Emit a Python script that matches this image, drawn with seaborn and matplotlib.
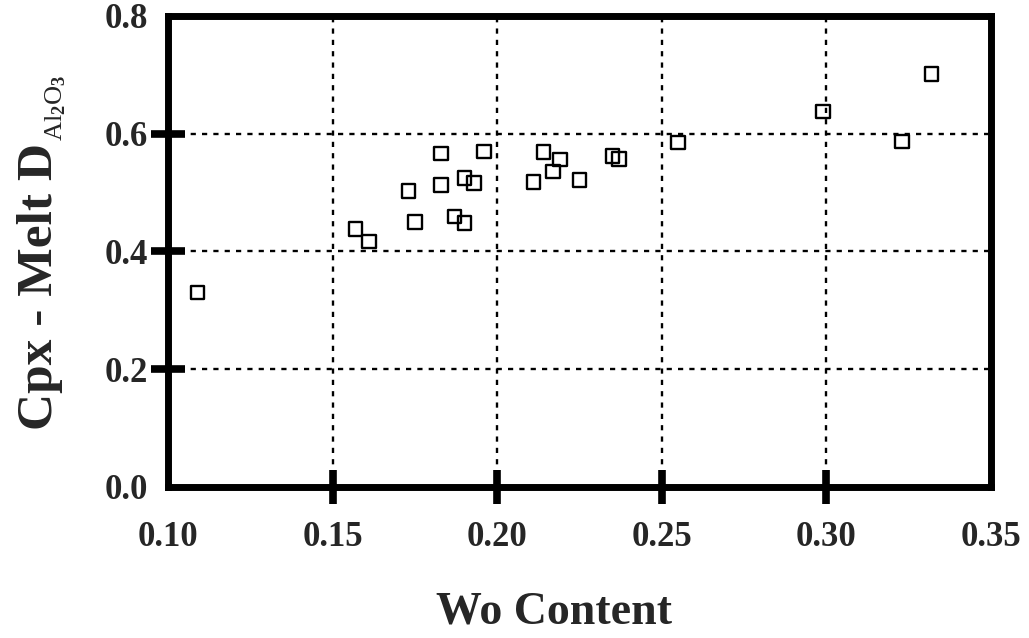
import matplotlib
matplotlib.use("Agg")
import matplotlib.pyplot as plt
import seaborn as sns
import pandas as pd

# Wollastonite content of clinopyroxene vs. Cpx/melt partition coefficient for Al2O3
wo_content = [0.109, 0.157, 0.161, 0.173, 0.175, 0.183, 0.183, 0.187, 0.190, 0.190,
              0.193, 0.196, 0.211, 0.214, 0.219, 0.217, 0.225, 0.235, 0.237, 0.255,
              0.299, 0.323, 0.332]
d_al2o3 = [0.330, 0.438, 0.417, 0.503, 0.450, 0.566, 0.513, 0.459, 0.448, 0.525,
           0.516, 0.570, 0.518, 0.569, 0.556, 0.536, 0.521, 0.562, 0.557, 0.585,
           0.638, 0.587, 0.701]

x_ticks = [0.10, 0.15, 0.20, 0.25, 0.30, 0.35]
x_tick_labels = ["0.10", "0.15", "0.20", "0.25", "0.30", "0.35"]
y_ticks = [0.0, 0.2, 0.4, 0.6, 0.8]
y_tick_labels = ["0.0", "0.2", "0.4", "0.6", "0.8"]

df = pd.DataFrame({"wo": wo_content, "d": d_al2o3})

sns.set_theme(style="white")
plt.rcParams["font.family"] = ["Liberation Serif", "DejaVu Serif"]
plt.rcParams["font.weight"] = "bold"
plt.rcParams["mathtext.fontset"] = "custom"
plt.rcParams["mathtext.rm"] = "Liberation Serif"
plt.rcParams["mathtext.it"] = "Liberation Serif:italic"
plt.rcParams["mathtext.bf"] = "Liberation Serif:bold"

W, H = 1029, 638
fig = plt.figure(figsize=(W / 100, H / 100), dpi=100)
ax = fig.add_axes([0.1633, 0.2367, 0.963 - 0.1633, 0.975 - 0.2367])

sns.scatterplot(data=df, x="wo", y="d", ax=ax, marker="s", s=95,
                facecolor="none", edgecolor="black", linewidth=1.7, zorder=3)

ax.set_xlim(0.10, 0.35)
ax.set_ylim(0.0, 0.8)
ax.set_xticks(x_ticks)
ax.set_xticklabels(x_tick_labels)
ax.set_yticks(y_ticks)
ax.set_yticklabels(y_tick_labels)

# dotted grid on interior ticks only
for xv in x_ticks[1:-1]:
    ax.axvline(xv, color="black", lw=1.7, ls=(0, (2.2, 2.6)), zorder=1)
for yv in y_ticks[1:-1]:
    ax.axhline(yv, color="black", lw=1.7, ls=(0, (2.2, 2.6)), zorder=1)

for side in ["left", "right", "top", "bottom"]:
    ax.spines[side].set_visible(True)
    ax.spines[side].set_linewidth(5)
    ax.spines[side].set_color("black")

ax.tick_params(axis="both", which="major", direction="inout", length=25, width=5.5,
               color="black", labelsize=25, bottom=True, left=True, top=False, right=False)
ax.tick_params(axis="x", pad=12)
ax.tick_params(axis="y", pad=2)

# no tick marks at the frame corners
for ticks in (ax.xaxis.get_major_ticks(), ax.yaxis.get_major_ticks()):
    ticks[0].tick1line.set_visible(False)
    ticks[-1].tick1line.set_visible(False)

for lbl in ax.get_xticklabels() + ax.get_yticklabels():
    lbl.set_fontweight("bold")

ax.set_xlabel("Wo Content", fontsize=33, fontweight="bold")
ax.xaxis.set_label_coords(0.469, -0.222)
ax.set_ylabel("")

# y-axis title: bold main text plus a smaller, regular-weight chemical subscript
ylab = fig.text(52 / W, 1 - 430 / H, "Cpx - Melt D", fontsize=37, fontweight="bold",
                rotation=90, rotation_mode="anchor", ha="left", va="baseline")
fig.canvas.draw()
bb = ylab.get_window_extent(renderer=fig.canvas.get_renderer())
fig.text(62 / W, (bb.y1 + 2) / H, r"Al$_2$O$_3$", fontsize=19, fontweight="normal",
         rotation=90, rotation_mode="anchor", ha="left", va="baseline")

fig.savefig("out.png", dpi=100)
